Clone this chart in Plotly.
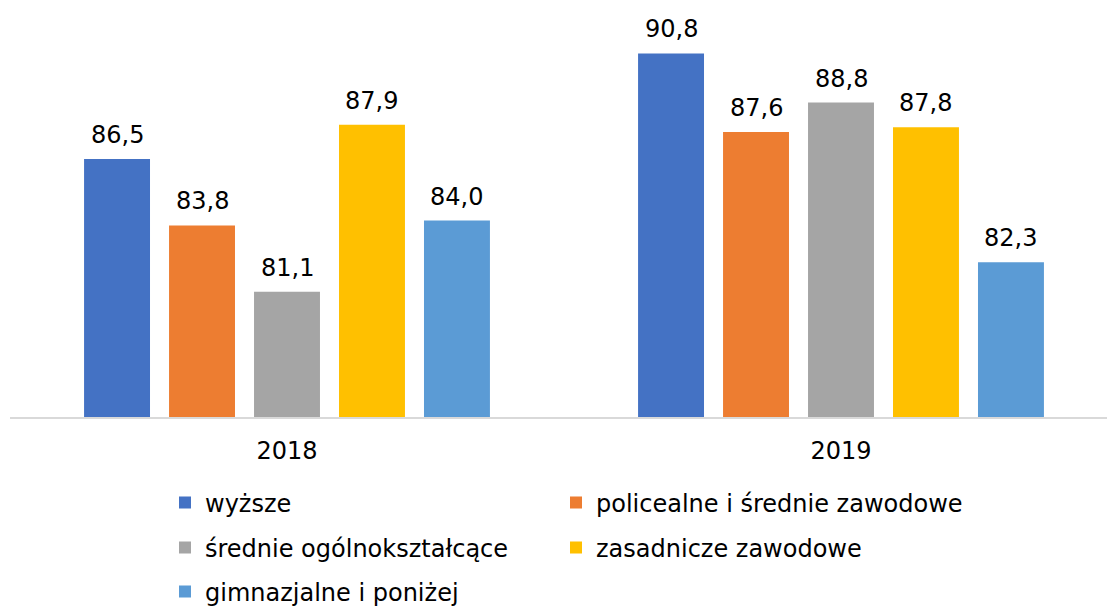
import plotly.graph_objects as go

years = ["2018", "2019"]
series_names = ["wyższe", "policealne i średnie zawodowe", "średnie ogólnokształcące",
                "zasadnicze zawodowe", "gimnazjalne i poniżej"]
values_wyzsze = [86.5, 90.8]
values_policealne = [83.8, 87.6]
values_srednie = [81.1, 88.8]
values_zasadnicze = [87.9, 87.8]
values_gimnazjalne = [84.0, 82.3]
colors = ["#4472C4", "#ED7D31", "#A5A5A5", "#FFC000", "#5B9BD5"]

all_values = [values_wyzsze, values_policealne, values_srednie, values_zasadnicze, values_gimnazjalne]
legend_ids = ["legend", "legend2", "legend3", "legend4", "legend5"]

FONT = "DejaVu Sans, Verdana, sans-serif"
FS = 24

W, H = 1107, 606
ml, mr, mt, mb = 10, 0, 24, 189
plot_w = W - ml - mr
cat_px = 554  # pixel width of one category band
x_range = [-0.5, -0.5 + plot_w / cat_px]
bargap = 0.233
bargroupgap = 0.224

fig = go.Figure()
for name, vals, col, lg in zip(series_names, all_values, colors, legend_ids):
    fig.add_trace(go.Bar(
        x=years, y=vals, name=name, marker_color=col, marker_line_width=0,
        legend=lg, cliponaxis=False, hoverinfo="skip",
    ))

# value labels above bars (category index positions, shifted to each bar slot)
n = len(all_values)
slot = cat_px * (1 - bargap) / n
for i, vals in enumerate(all_values):
    off = (i - (n - 1) / 2) * slot
    for ci, v in enumerate(vals):
        fig.add_annotation(
            x=ci, y=v, text=f"{v:.1f}".replace(".", ","), showarrow=False,
            xshift=off, yanchor="middle", yshift=24,
            font=dict(family=FONT, size=FS, color="#000000"),
        )

legend_common = dict(
    orientation="h", xref="container", yref="container", xanchor="left", yanchor="middle",
    font=dict(family=FONT, size=FS, color="#000000"),
    bgcolor="rgba(0,0,0,0)", borderwidth=0, itemclick=False, itemdoubleclick=False,
)
col_x = [165 / W, 556 / W]
row_y = [1 - 503 / H, 1 - 548 / H, 1 - 592 / H]
legend_layout = {}
for k, lg in enumerate(legend_ids):
    legend_layout[lg] = dict(legend_common, x=col_x[k % 2], y=row_y[k // 2])

fig.update_layout(
    width=W, height=H,
    margin=dict(l=ml, r=mr, t=mt, b=mb, autoexpand=False),
    paper_bgcolor="white", plot_bgcolor="white",
    barmode="group", bargap=bargap, bargroupgap=bargroupgap,
    font=dict(family=FONT, size=FS, color="#000000"),
    xaxis=dict(type="category", range=x_range, showline=True, linecolor="#D9D9D9", linewidth=2,
               showgrid=False, ticks="", ticklabelstandoff=11,
               tickfont=dict(family=FONT, size=FS, color="#000000")),
    yaxis=dict(range=[76, 92], visible=False, showgrid=False, zeroline=False),
    showlegend=True,
    **legend_layout,
)

fig.write_html("out.html", config={"displayModeBar": False},
               post_script="document.body.style.margin='0';document.body.style.padding='0';")
